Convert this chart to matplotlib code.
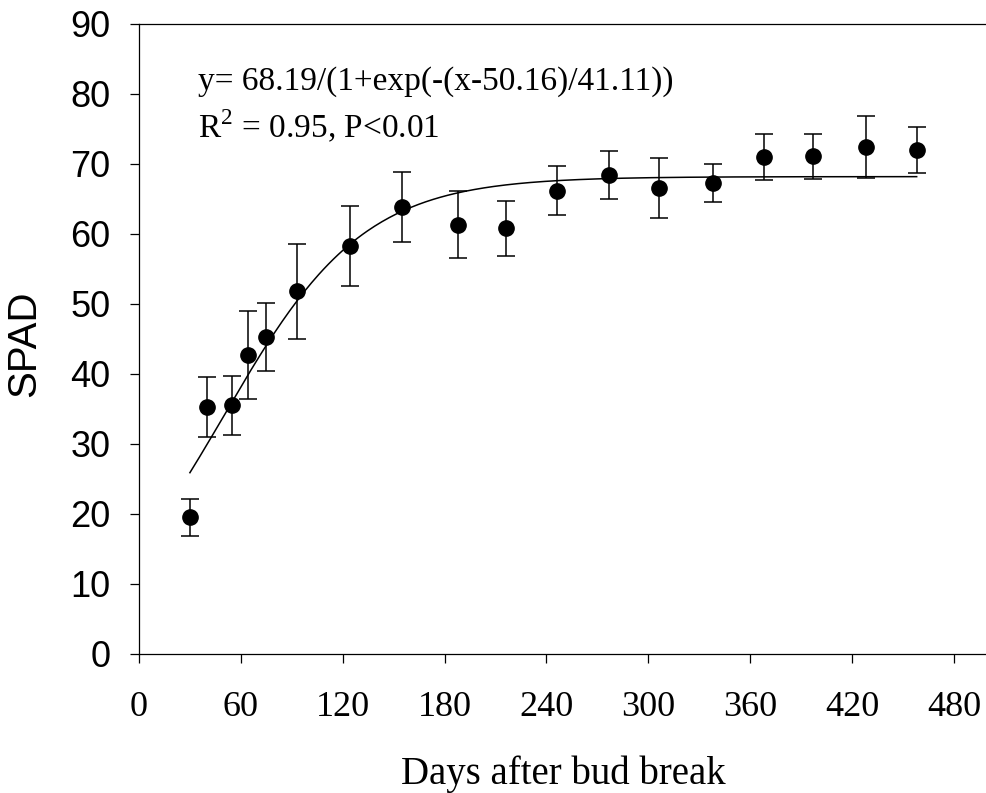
import numpy as np
import matplotlib
matplotlib.use('Agg')
import matplotlib.pyplot as plt

plt.rcParams['mathtext.fontset'] = 'custom'
plt.rcParams['mathtext.rm'] = 'Liberation Serif'

# days after bud break, mean SPAD and SD
days = [30, 40, 55, 64, 75, 93, 124, 155, 188, 216, 246, 277, 306, 338, 368, 397, 428, 458]
spad = [19.5, 35.3, 35.5, 42.7, 45.3, 51.8, 58.3, 63.8, 61.3, 60.8, 66.2, 68.4, 66.6, 67.3, 71.0, 71.1, 72.4, 72.0]
sd = [2.6, 4.3, 4.2, 6.3, 4.9, 6.8, 5.7, 5.0, 4.8, 3.9, 3.5, 3.4, 4.3, 2.7, 3.3, 3.2, 4.4, 3.3]

# logistic fit parameters
fit_a, fit_x0, fit_b = 68.19, 50.16, 41.11

x_ticks = [0, 60, 120, 180, 240, 300, 360, 420, 480]
y_ticks = [0, 10, 20, 30, 40, 50, 60, 70, 80, 90]

serif = 'Liberation Serif'
sans = 'Liberation Sans'

fig = plt.figure(figsize=(9.87, 7.93), dpi=100)
ax = fig.add_axes([0.1408, 0.1753, 0.8602, 0.7945])

xf = np.linspace(min(days), max(days), 300)
yf = fit_a / (1 + np.exp(-(xf - fit_x0) / fit_b))
ax.plot(xf, yf, color='black', lw=1.1)

ax.errorbar(days, spad, yerr=sd, fmt='o', color='black', ms=11,
            elinewidth=1.1, capsize=6.8, capthick=1.1)

ax.set_xlim(0, 500)
ax.set_ylim(0, 90)
ax.set_xticks(x_ticks)
ax.set_yticks(y_ticks)
ax.set_xticklabels([str(t) for t in x_ticks], fontfamily=serif, fontsize=26)
ax.set_yticklabels([str(t) for t in y_ticks], fontfamily=sans, fontsize=26)
ax.tick_params(axis='both', direction='out', length=6.5, width=0.9)
ax.tick_params(axis='x', pad=20)
ax.tick_params(axis='y', pad=14)

for s in ['left', 'bottom', 'top']:
    ax.spines[s].set_linewidth(0.9)
ax.spines['right'].set_visible(False)

ax.set_xlabel('Days after bud break', fontfamily=serif, fontsize=28)
ax.xaxis.label.set_verticalalignment('baseline')
ax.xaxis.set_label_coords(0.5, -0.2063)
ax.set_ylabel('SPAD', fontfamily=sans, fontsize=29)
ax.yaxis.set_label_coords(-0.113, 0.492)

ax.text(34.7, 80.6, 'y= 68.19/(1+exp(-(x-50.16)/41.11))', fontfamily=serif,
        fontsize=24, ha='left', va='baseline')
ax.text(34.7, 73.6, r'R$^{\mathrm{2}}$ = 0.95, P<0.01', fontfamily=serif,
        fontsize=24, ha='left', va='baseline')

fig.savefig('out.png', dpi=100)
